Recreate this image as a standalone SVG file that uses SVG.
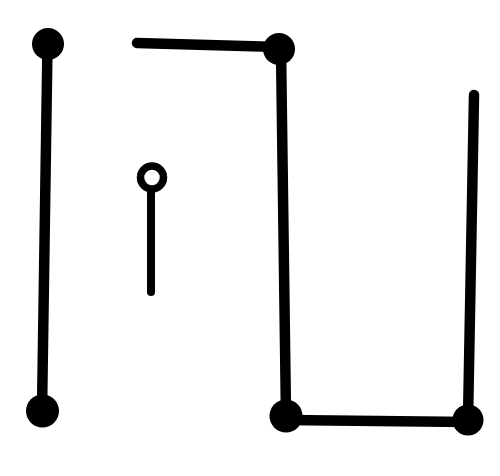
<svg xmlns="http://www.w3.org/2000/svg" width="500" height="476" viewBox="0 0 500 476">
<style>
.dot{fill:#000}
.wire{stroke:#000;stroke-width:10.5;stroke-linecap:round;fill:none}
.thin{stroke:#000;stroke-width:8;stroke-linecap:round;fill:none}
.ring{fill:#fff;stroke:#000;stroke-width:7.5}
</style>
<rect width="500" height="476" fill="#fff"/>
<g id="connectors">
<line class="wire" x1="47.5" y1="44" x2="42" y2="411"/>
<line class="wire" x1="137" y1="43" x2="279" y2="47"/>
<line class="wire" x1="281" y1="49" x2="286" y2="416"/>
<line class="wire" x1="286" y1="420" x2="468" y2="422"/>
<line class="wire" x1="468" y1="420" x2="474" y2="95"/>
<line class="thin" x1="151" y1="180" x2="151" y2="292"/>
</g>
<g id="n1"><circle class="dot" cx="48" cy="44" r="16"/></g>
<g id="n2"><circle class="dot" cx="42.5" cy="411" r="16.5"/></g>
<g id="n3"><circle class="dot" cx="279" cy="49" r="16"/></g>
<g id="n4"><circle class="dot" cx="286" cy="416" r="16.5"/></g>
<g id="n5"><circle class="dot" cx="468" cy="420" r="15.5"/></g>
<g id="n6"><circle class="ring" cx="152" cy="177.5" r="11.5"/></g>
</svg>
